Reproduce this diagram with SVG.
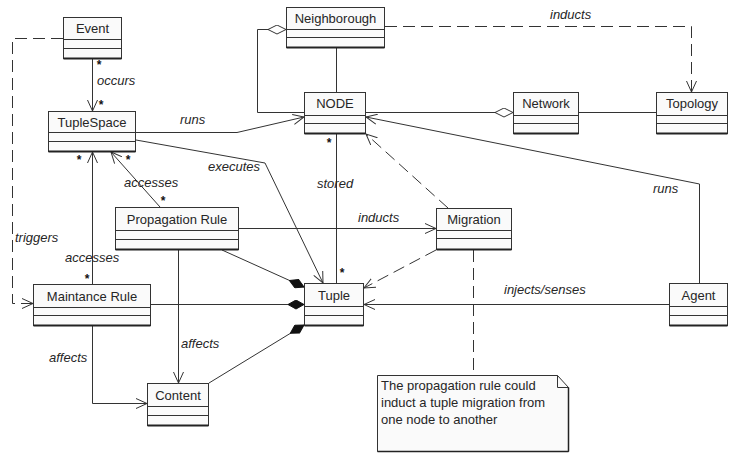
<svg xmlns="http://www.w3.org/2000/svg" width="733" height="455" viewBox="0 0 733 455">
  <style>
    .box { fill: #fafafa; stroke: #333; stroke-width: 1; }
    .div { stroke: #333; stroke-width: 1; fill: none; }
    .base { stroke: #222; stroke-width: 2; fill: none; }
    .name { font-family: "Liberation Sans", Arial, sans-serif; font-size: 13px; fill: #262626; text-anchor: middle; }
    .lbl { font-family: "Liberation Sans", Arial, sans-serif; font-size: 13px; font-style: italic; fill: #262626; }
    .mult { font-family: "Liberation Sans", Arial, sans-serif; font-size: 12px; font-weight: bold; fill: #111; text-anchor: middle; }
    .note { font-family: "Liberation Sans", Arial, sans-serif; font-size: 13px; fill: #262626; }
    .edge { stroke: #333; stroke-width: 1; fill: none; }
    .dash { stroke-dasharray: 12 6; }
  </style>
  <defs>
    <marker id="open" viewBox="0 0 12 11" refX="11" refY="5.5" markerWidth="12" markerHeight="11" markerUnits="userSpaceOnUse" orient="auto">
      <path d="M0,0.5 L11,5.5 L0,10.5" fill="none" stroke="#333" stroke-width="1"/>
    </marker>
    <marker id="filled" viewBox="0 -5 17 10" refX="16.5" refY="0" markerWidth="17" markerHeight="10" markerUnits="userSpaceOnUse" orient="auto">
      <path d="M0.5,0 L8.5,-4.5 L16.5,0 L8.5,4.5 Z" fill="#111" stroke="#111" stroke-width="1"/>
    </marker>
    <marker id="hollow" viewBox="0 -5 19 10" refX="18.5" refY="0" markerWidth="19" markerHeight="10" markerUnits="userSpaceOnUse" orient="auto">
      <path d="M0.5,0 L9.5,-4.5 L18.5,0 L9.5,4.5 Z" fill="#fff" stroke="#333" stroke-width="1"/>
    </marker>
  </defs>

  <!-- connectors -->
  <g id="edges">
    <path class="edge" d="M92.5,59 V111" marker-end="url(#open)"/>
    <path class="edge dash" d="M63,38.5 H12.5 V303.5 H33" marker-end="url(#open)"/>
    <path class="edge" d="M136,132.5 H237 L304,117" marker-end="url(#open)"/>
    <path class="edge" d="M136,140 L265,163 L323,283" marker-end="url(#open)"/>
    <path class="edge" d="M160,207 L111,152" marker-end="url(#open)"/>
    <path class="edge" d="M92.5,284 V152" marker-end="url(#open)"/>
    <path class="edge" d="M239,228.5 H436" marker-end="url(#open)"/>
    <path class="edge" d="M336.5,134 V283"/>
    <path class="edge dash" d="M448,208 L366,134" marker-end="url(#open)"/>
    <path class="edge dash" d="M436,250 L364,288" marker-end="url(#open)"/>
    <path class="edge" d="M222,250 L304,287" marker-end="url(#filled)"/>
    <path class="edge" d="M151,304.5 H304" marker-end="url(#filled)"/>
    <path class="edge" d="M209,383 L304,325" marker-end="url(#filled)"/>
    <path class="edge" d="M178.5,250 V383" marker-end="url(#open)"/>
    <path class="edge" d="M92.5,326 V403.5 H147" marker-end="url(#open)"/>
    <path class="edge" d="M669,304.5 H364" marker-end="url(#open)"/>
    <path class="edge" d="M699.5,283 V184 L366,117" marker-end="url(#open)"/>
    <path class="edge" d="M366,112.5 H513" marker-end="url(#hollow)"/>
    <path class="edge" d="M304,112.5 H257.5 V29.5 H286" marker-end="url(#hollow)"/>
    <path class="edge" d="M336.5,48 V92"/>
    <path class="edge" d="M579,112.5 H656"/>
    <path class="edge dash" d="M385,26.5 H691.5 V92" marker-end="url(#open)"/>
    <path class="edge dash" d="M473.5,250 V375"/>

    <!-- association labels -->
    <text class="lbl" x="97" y="85">occurs</text>
    <text class="lbl" x="180" y="124">runs</text>
    <text class="lbl" x="208" y="171">executes</text>
    <text class="lbl" x="124" y="187">accesses</text>
    <text class="lbl" x="15" y="242">triggers</text>
    <text class="lbl" x="65" y="262">accesses</text>
    <text class="lbl" x="317" y="188">stored</text>
    <text class="lbl" x="358" y="222">inducts</text>
    <text class="lbl" x="653" y="193">runs</text>
    <text class="lbl" x="504" y="294">injects/senses</text>
    <text class="lbl" x="550" y="19">inducts</text>
    <text class="lbl" x="181" y="348">affects</text>
    <text class="lbl" x="49" y="362">affects</text>

    <!-- multiplicities -->
    <text class="mult" x="99" y="69">*</text>
    <text class="mult" x="101" y="109">*</text>
    <text class="mult" x="79" y="164">*</text>
    <text class="mult" x="128" y="164">*</text>
    <text class="mult" x="163" y="205">*</text>
    <text class="mult" x="87" y="283">*</text>
    <text class="mult" x="329" y="147">*</text>
    <text class="mult" x="342" y="277">*</text>
  </g>

  <!-- classes -->
  <g id="event">
    <rect class="box" x="63.5" y="17.5" width="58" height="41"/>
    <path class="div" d="M63.5,39.5 H121.5 M63.5,48.5 H121.5"/>
    <path class="base" d="M63.5,58.5 H121.5"/>
    <text class="name" x="92.5" y="33">Event</text>
  </g>
  <g id="tuplespace">
    <rect class="box" x="48.5" y="111.5" width="87" height="40"/>
    <path class="div" d="M48.5,132.5 H135.5 M48.5,141.5 H135.5"/>
    <path class="base" d="M48.5,151.5 H135.5"/>
    <text class="name" x="92" y="127">TupleSpace</text>
  </g>
  <g id="neighborough">
    <rect class="box" x="286.5" y="7.5" width="98" height="40"/>
    <path class="div" d="M286.5,29.5 H384.5 M286.5,37.5 H384.5"/>
    <path class="base" d="M286.5,47.5 H384.5"/>
    <text class="name" x="335.5" y="23">Neighborough</text>
  </g>
  <g id="node">
    <rect class="box" x="304.5" y="92.5" width="61" height="41"/>
    <path class="div" d="M304.5,115.5 H365.5 M304.5,123.5 H365.5"/>
    <path class="base" d="M304.5,133.5 H365.5"/>
    <text class="name" x="335" y="108">NODE</text>
  </g>
  <g id="network">
    <rect class="box" x="513.5" y="92.5" width="65" height="41"/>
    <path class="div" d="M513.5,115.5 H578.5 M513.5,123.5 H578.5"/>
    <path class="base" d="M513.5,133.5 H578.5"/>
    <text class="name" x="546" y="108">Network</text>
  </g>
  <g id="topology">
    <rect class="box" x="656.5" y="92.5" width="71" height="41"/>
    <path class="div" d="M656.5,115.5 H727.5 M656.5,123.5 H727.5"/>
    <path class="base" d="M656.5,133.5 H727.5"/>
    <text class="name" x="692" y="108">Topology</text>
  </g>
  <g id="propagation-rule">
    <rect class="box" x="115.5" y="207.5" width="123" height="42"/>
    <path class="div" d="M115.5,230.5 H238.5 M115.5,239.5 H238.5"/>
    <path class="base" d="M115.5,249.5 H238.5"/>
    <text class="name" x="177" y="224">Propagation Rule</text>
  </g>
  <g id="migration">
    <rect class="box" x="436.5" y="208.5" width="75" height="41"/>
    <path class="div" d="M436.5,230.5 H511.5 M436.5,238.5 H511.5"/>
    <path class="base" d="M436.5,249.5 H511.5"/>
    <text class="name" x="474" y="224">Migration</text>
  </g>
  <g id="maintance-rule">
    <rect class="box" x="33.5" y="284.5" width="117" height="41"/>
    <path class="div" d="M33.5,307.5 H150.5 M33.5,315.5 H150.5"/>
    <path class="base" d="M33.5,325.5 H150.5"/>
    <text class="name" x="92" y="301">Maintance Rule</text>
  </g>
  <g id="tuple">
    <rect class="box" x="304.5" y="283.5" width="59" height="42"/>
    <path class="div" d="M304.5,306.5 H363.5 M304.5,315.5 H363.5"/>
    <path class="base" d="M304.5,325.5 H363.5"/>
    <text class="name" x="334" y="300">Tuple</text>
  </g>
  <g id="agent">
    <rect class="box" x="669.5" y="283.5" width="58" height="42"/>
    <path class="div" d="M669.5,306.5 H727.5 M669.5,315.5 H727.5"/>
    <path class="base" d="M669.5,325.5 H727.5"/>
    <text class="name" x="698.5" y="300">Agent</text>
  </g>
  <g id="content">
    <rect class="box" x="147.5" y="383.5" width="61" height="42"/>
    <path class="div" d="M147.5,406.5 H208.5 M147.5,415.5 H208.5"/>
    <path class="base" d="M147.5,425.5 H208.5"/>
    <text class="name" x="178" y="400">Content</text>
  </g>

  <!-- comment note -->
  <g id="note">
    <path class="box" d="M377.5,375.5 H557.5 L568.5,387.5 V451.5 H377.5 Z"/>
    <path class="div" d="M557.5,375.5 V387.5 H568.5"/>
    <path class="base" d="M377.5,451.5 H568.5 M568.5,387.5 V451.5" style="stroke-width:1.5"/>
    <text class="note" x="381" y="390">The propagation rule could</text>
    <text class="note" x="381" y="407">induct a tuple migration from</text>
    <text class="note" x="381" y="424">one node to another</text>
  </g>
</svg>
